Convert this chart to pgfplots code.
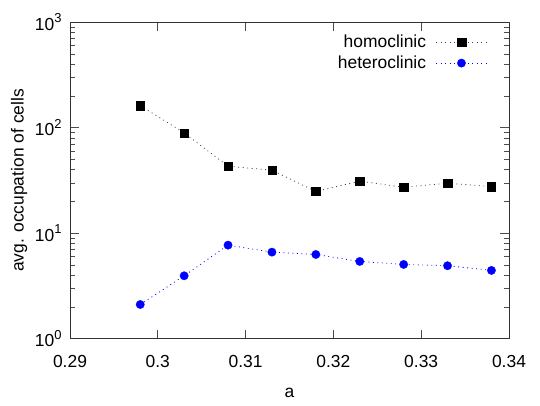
\documentclass[border=0pt]{standalone}
\usepackage{fontspec}
\setmainfont{Liberation Sans}
\usepackage{pgfplots}
\pgfplotsset{compat=1.18}

\newcommand{\tenpow}[1]{10\raisebox{0.42em}{\fontsize{13}{13}\selectfont #1}}

\begin{document}
\begin{tikzpicture}
\path[use as bounding box] (-70bp,-67.3bp) rectangle (470bp,338.7bp);
\begin{axis}[
  at={(0,0)}, anchor=south west,
  scale only axis,
  width=439bp, height=316.4bp,
  font=\fontsize{17.5}{21}\selectfont,
  xmin=0.29, xmax=0.34,
  ymode=log, ymin=1, ymax=1000,
  xtick={0.29,0.30,0.31,0.32,0.33,0.34},
  xticklabels={0.29,0.3,0.31,0.32,0.33,0.34},
  ytick={1,10,100,1000},
  yticklabels={\tenpow{0},\tenpow{1},\tenpow{2},\tenpow{3}},
  tick align=inside,
  major tick length=9bp,
  minor tick length=5bp,
  axis line style={black!80, line width=0.8bp},
  every tick/.style={black!70, line width=0.7bp},
  xticklabel style={anchor=center, yshift=-23bp},
  yticklabel style={anchor=base east, yshift=-8bp, xshift=-5bp},
  xlabel={a},
  ylabel={avg. occupation of cells},
  xlabel style={at={(axis description cs:0.5,-0.172)}, anchor=center},
  ylabel style={at={(axis description cs:-0.116,0.5)}, anchor=center},
  legend plot pos=right,
  legend cell align=right,
  legend style={draw=none, fill=none, at={(0.95,0.967)}, anchor=north east,
    inner sep=0pt, row sep=3bp, font=\fontsize{17.5}{21}\selectfont},
  legend image code/.code={%
    \path (0bp,0bp);
    \draw[mark repeat=2, mark phase=2, #1]
      plot coordinates {(8bp,0bp) (33bp,0bp) (58bp,0bp)};},
]

\addplot[
  color=black!75, line width=0.8bp, dash pattern=on 0.9bp off 3.6bp,
  mark=square*, mark size=4.2bp,
  mark options={solid, draw=black, fill=black, line width=0.3bp},
]
coordinates {
(0.298,162)(0.303,89.4)(0.308,43.2)(0.313,39.6)(0.318,24.9)
(0.323,31.2)(0.328,27.3)(0.333,29.8)(0.338,27.7)
};
\addlegendentry{homoclinic}

\addplot[
  color=blue, line width=0.8bp, dash pattern=on 0.9bp off 3.6bp,
  mark=*, mark size=4.2bp,
  mark options={solid, draw=blue, fill=blue, line width=0.3bp},
]
coordinates {
(0.298,2.11)(0.303,3.95)(0.308,7.71)(0.313,6.62)(0.318,6.29)
(0.323,5.40)(0.328,5.06)(0.333,4.92)(0.338,4.44)
};
\addlegendentry{heteroclinic}
\end{axis}
\end{tikzpicture}
\end{document}
